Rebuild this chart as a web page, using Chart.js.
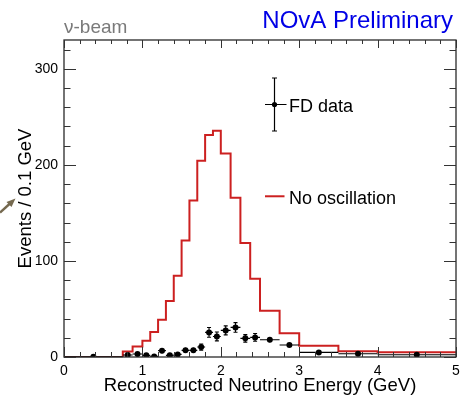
<!DOCTYPE html>
<html><head><meta charset="utf-8">
<script src="https://cdn.jsdelivr.net/npm/chart.js@4.4.1/dist/chart.umd.min.js"></script>
<style>html,body{margin:0;padding:0;background:#fff;}#wrap{width:462px;height:397px;position:relative;}</style>
</head><body><div id="wrap"><canvas id="c" width="462" height="397"></canvas></div>
<script>
// Variable-width energy bins (GeV), shared by simulation and data
const binEdges = [0, 0.75, 0.875, 1.0, 1.1, 1.2, 1.3, 1.4, 1.5, 1.6, 1.7, 1.8, 1.9, 2.0, 2.125, 2.25, 2.375, 2.5, 2.75, 3.0, 3.5, 4.0, 5.0];
// Events / 0.1 GeV
const noOscillation = [0, 5.8, 11, 17, 26, 38.8, 58.3, 84.6, 121.3, 163, 204.3, 231, 235.5, 211.9, 165.8, 118.6, 81.5, 48.2, 24.6, 11.8, 6, 5];
const fdData = [0.3, 2.1, 3.1, 1.7, 0.6, 6.6, 1.7, 2.7, 6.9, 6.9, 10.4, 25.6, 21.4, 27.7, 30.8, 19.4, 20.4, 18, 12.5, 4.8, 3.4, 2.4];
const fdDataErr = [0.2, 1.3, 1.6, 1.2, 0.8, 2.6, 1.2, 1.6, 2.6, 2.6, 3.2, 5.1, 4.6, 4.7, 5.0, 3.9, 4.0, 2.7, 2.2, 1.0, 0.8, 0.5];
const xTicks = [0, 1, 2, 3, 4, 5];
const yTicks = [0, 100, 200, 300];
const xMinorStep = 0.2, yMinorStep = 20;
const xRange = [0, 5], yRange = [0, 330];

const FONT = "'Liberation Sans', Arial, Helvetica, sans-serif";
const RED = '#cc2020';

const histPoints = noOscillation.map((v, i) => ({x: binEdges[i], y: v}));
histPoints.push({x: binEdges[binEdges.length - 1], y: noOscillation[noOscillation.length - 1]});
const dataPoints = fdData.map((v, i) => ({x: (binEdges[i] + binEdges[i + 1]) / 2, y: v, lo: binEdges[i], hi: binEdges[i + 1], e: fdDataErr[i]}));

const rootPlugin = {
  id: 'rootStyle',
  afterDatasetsDraw(chart) {
    const {ctx, chartArea: a, scales: {x, y}} = chart;
    ctx.save();
    ctx.beginPath(); ctx.rect(a.left, a.top - 1, a.right - a.left, a.bottom - a.top + 2); ctx.clip();
    ctx.strokeStyle = '#000'; ctx.lineWidth = 1.1;
    dataPoints.forEach(p => {
      const px = x.getPixelForValue(p.x), py = y.getPixelForValue(p.y);
      const xl = x.getPixelForValue(p.lo), xh = x.getPixelForValue(p.hi);
      const yt = y.getPixelForValue(p.y + p.e), yb = y.getPixelForValue(Math.max(0, p.y - p.e));
      ctx.beginPath();
      ctx.moveTo(xl, py); ctx.lineTo(xh, py);
      ctx.moveTo(px, yt); ctx.lineTo(px, yb);
      if (py - yt > 3) { ctx.moveTo(px - 2, yt); ctx.lineTo(px + 2, yt); ctx.moveTo(px - 2, yb); ctx.lineTo(px + 2, yb); }
      ctx.stroke();
    });
    ctx.restore();
  },
  afterDraw(chart) {
    const {ctx, chartArea: a, scales: {x, y}} = chart;
    ctx.save();
    ctx.strokeStyle = '#2a2a2a'; ctx.lineWidth = 1.3;
    ctx.strokeRect(a.left, a.top, a.right - a.left, a.bottom - a.top);
    ctx.lineWidth = 1;
    ctx.strokeStyle = '#333';
    ctx.beginPath();
    for (let v = xRange[0]; v <= xRange[1] + 1e-9; v += xMinorStep) {
      const major = xTicks.some(t => Math.abs(t - v) < 1e-6);
      const px = Math.round(x.getPixelForValue(v)) + 0.5;
      const lb = major ? 10 : 5, lt = major ? 8 : 4;
      ctx.moveTo(px, a.bottom); ctx.lineTo(px, a.bottom - lb);
      ctx.moveTo(px, a.top); ctx.lineTo(px, a.top + lt);
    }
    for (let v = yRange[0]; v <= yRange[1] + 1e-9; v += yMinorStep) {
      const major = yTicks.some(t => Math.abs(t - v) < 1e-6);
      const py = Math.round(y.getPixelForValue(v)) + 0.5;
      const l = major ? 12 : 6.5;
      ctx.moveTo(a.left, py); ctx.lineTo(a.left + l, py);
      ctx.moveTo(a.right, py); ctx.lineTo(a.right - l, py);
    }
    ctx.stroke();

    ctx.textBaseline = 'alphabetic';
    ctx.fillStyle = '#0000e6'; ctx.font = '24px ' + FONT; ctx.textAlign = 'right';
    ctx.fillText('NOvA Preliminary', 453, 28);
    ctx.fillStyle = '#7a7a7a'; ctx.font = '19px ' + FONT; ctx.textAlign = 'left';
    ctx.fillText('\u03bd-beam', 64, 33);

    const lx = a.left + 0.537 * (a.right - a.left);
    const ly1 = a.top + 0.2035 * (a.bottom - a.top);
    const ly2 = a.top + 0.493 * (a.bottom - a.top);
    ctx.strokeStyle = '#000'; ctx.lineWidth = 1.2;
    ctx.beginPath();
    ctx.moveTo(lx, ly1 - 26.5); ctx.lineTo(lx, ly1 + 26.5);
    ctx.moveTo(lx - 2.5, ly1 - 26.5); ctx.lineTo(lx + 2.5, ly1 - 26.5);
    ctx.moveTo(lx - 2.5, ly1 + 26.5); ctx.lineTo(lx + 2.5, ly1 + 26.5);
    ctx.moveTo(lx - 9.5, ly1); ctx.lineTo(lx + 12, ly1);
    ctx.stroke();
    ctx.fillStyle = '#000';
    ctx.beginPath(); ctx.arc(lx, ly1, 2.6, 0, Math.PI * 2); ctx.fill();
    ctx.strokeStyle = RED; ctx.lineWidth = 2;
    ctx.beginPath(); ctx.moveTo(lx - 9.5, ly2); ctx.lineTo(lx + 10, ly2); ctx.stroke();
    ctx.fillStyle = '#000'; ctx.font = '18px ' + FONT; ctx.textAlign = 'left'; ctx.textBaseline = 'alphabetic';
    ctx.fillText('FD data', lx + 14.5, ly1 + 7.8);
    ctx.fillText('No oscillation', lx + 14.5, ly2 + 7.5);

    ctx.strokeStyle = '#75694f'; ctx.fillStyle = '#75694f'; ctx.lineWidth = 2.4;
    ctx.beginPath(); ctx.moveTo(0, 212.5); ctx.lineTo(10, 203.5); ctx.stroke();
    ctx.beginPath(); ctx.moveTo(15.5, 198.5); ctx.lineTo(6.5, 202); ctx.lineTo(11.5, 207); ctx.closePath(); ctx.fill();
    ctx.restore();
  }
};

new Chart(document.getElementById('c'), {
  type: 'line',
  data: {
    datasets: [
      {label: 'No oscillation', data: histPoints, stepped: true, borderColor: RED, borderWidth: 2, pointRadius: 0, fill: false, order: 2},
      {label: 'FD data', type: 'scatter', data: dataPoints, showLine: false, pointRadius: 3, pointBackgroundColor: '#000', pointBorderColor: '#000', pointBorderWidth: 0, order: 1}
    ]
  },
  options: {
    responsive: false, animation: false, devicePixelRatio: 1,
    layout: {padding: {left: 0, right: 6, top: 40, bottom: 0}},
    plugins: {legend: {display: false}, tooltip: {enabled: false}, title: {display: false}},
    scales: {
      x: {
        type: 'linear', min: xRange[0], max: xRange[1],
        afterBuildTicks: s => { s.ticks = xTicks.map(v => ({value: v})); },
        afterFit: s => { s.height = 40; s.paddingLeft = 0; s.paddingRight = 0; },
        grid: {display: false, drawTicks: false}, border: {display: false},
        ticks: {font: {family: FONT, size: 14}, color: '#000', padding: 6, maxRotation: 0, autoSkip: false},
        title: {display: true, text: 'Reconstructed Neutrino Energy (GeV)', font: {family: FONT, size: 18.5, lineHeight: 1.2}, color: '#000', padding: {top: 0, bottom: 0}}
      },
      y: {
        type: 'linear', min: yRange[0], max: yRange[1],
        afterBuildTicks: s => { s.ticks = yTicks.map(v => ({value: v})); },
        afterFit: s => { s.width = 64; s.paddingTop = 0; s.paddingBottom = 0; },
        grid: {display: false, drawTicks: false}, border: {display: false},
        ticks: {font: {family: FONT, size: 14}, color: '#000', padding: 6, autoSkip: false},
        title: {display: true, text: 'Events / 0.1 GeV', font: {family: FONT, size: 18.5, lineHeight: 1.2}, color: '#000', padding: {top: 15, bottom: 0}}
      }
    }
  },
  plugins: [rootPlugin]
});
</script></body></html>
